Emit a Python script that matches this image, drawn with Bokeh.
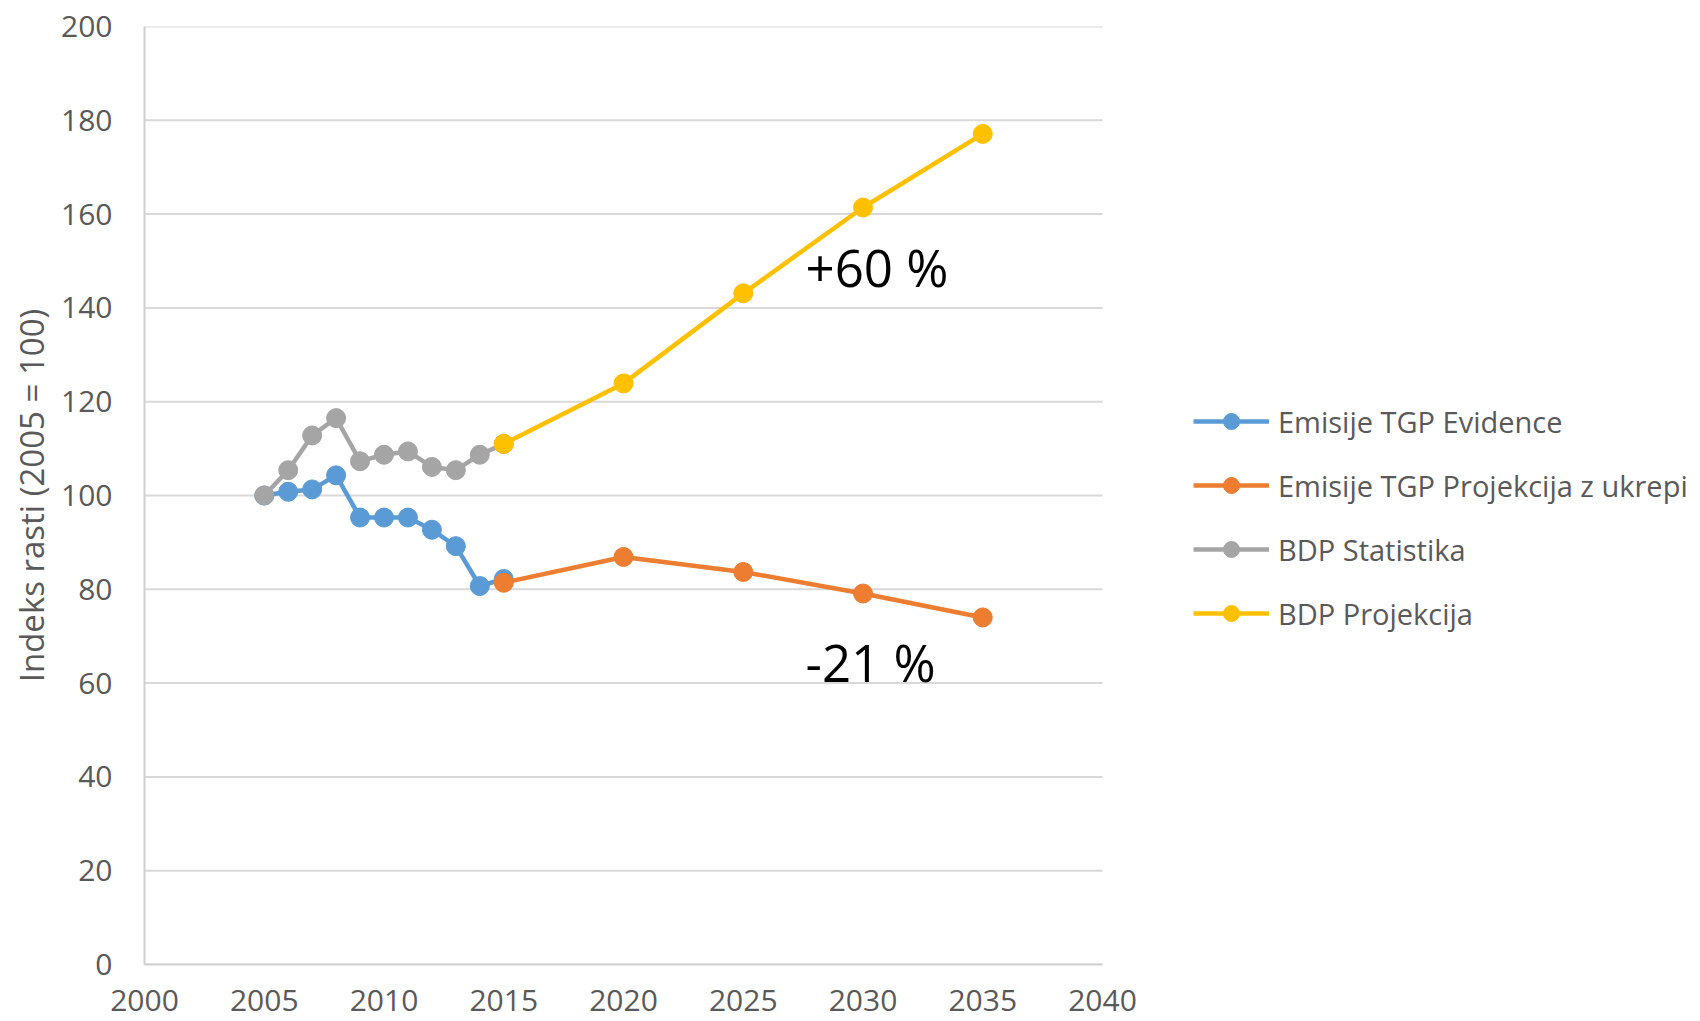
from bokeh.plotting import figure
from bokeh.models import Range1d, FixedTicker, Legend, LegendItem, Label
from bokeh.embed import file_html
from bokeh.resources import INLINE

# ---- data ----
years_evid = [2005, 2006, 2007, 2008, 2009, 2010, 2011, 2012, 2013, 2014, 2015]
emis_evid = [100.0, 100.8, 101.3, 104.3, 95.3, 95.3, 95.3, 92.7, 89.2, 80.7, 82.2]

years_proj = [2015, 2020, 2025, 2030, 2035]
emis_proj = [81.4, 86.9, 83.7, 79.1, 74.0]

years_stat = [2005, 2006, 2007, 2008, 2009, 2010, 2011, 2012, 2013, 2014, 2015]
bdp_stat = [100.0, 105.4, 112.8, 116.5, 107.3, 108.7, 109.4, 106.1, 105.4, 108.7, 111.0]

bdp_proj = [111.0, 123.9, 143.1, 161.4, 177.1]

series_names = ["Emisije TGP Evidence", "Emisije TGP Projekcija z ukrepi",
                "BDP Statistika", "BDP Projekcija"]
series_colors = ["#5B9BD5", "#ED7D31", "#A5A5A5", "#FFC000"]

x_ticks = [2000, 2005, 2010, 2015, 2020, 2025, 2030, 2035, 2040]
y_ticks = [0, 20, 40, 60, 80, 100, 120, 140, 160, 180, 200]

annot_texts = ["+60 %", "-21 %"]

FONT = "Open Sans"
GREY_TXT = "#595959"

# plot frame: 958 px for 40 years; frame extends to the right edge so the
# legend (drawn inside the frame) is not clipped
FRAME_W = 1556
x_end = x_ticks[0] + (x_ticks[-1] - x_ticks[0]) * FRAME_W / 958.0

p = figure(width=1700, height=1021, output_backend="svg", toolbar_location=None,
           x_range=Range1d(x_ticks[0], x_end), y_range=Range1d(0, 200),
           min_border_left=144, min_border_right=0, min_border_top=26,
           min_border_bottom=57)
p.outline_line_color = None
p.background_fill_color = "white"
p.border_fill_color = "white"

p.xgrid.grid_line_color = None
p.ygrid.grid_line_color = None

# horizontal gridlines limited to the 2000-2040 span
n = len(y_ticks)
p.segment(x0=[x_ticks[0]] * n, x1=[x_ticks[-1]] * n, y0=y_ticks, y1=y_ticks,
          line_color="#D9D9D9", line_width=2, level="underlay")

p.xaxis.ticker = FixedTicker(ticks=x_ticks)
p.yaxis.ticker = FixedTicker(ticks=y_ticks)
p.xaxis.bounds = (x_ticks[0], x_ticks[-1])
for ax in (p.xaxis, p.yaxis):
    ax.axis_line_color = "#D0D0D0"
    ax.axis_line_width = 2
    ax.major_tick_line_color = None
    ax.minor_tick_line_color = None
    ax.major_tick_out = 0
    ax.major_tick_in = 0
    ax.major_label_text_font = FONT
    ax.major_label_text_font_size = "30px"
    ax.major_label_text_color = GREY_TXT
p.yaxis.major_label_standoff = 32
p.xaxis.major_label_standoff = 25

p.yaxis.axis_label = "Indeks rasti (2005 = 100)"
p.yaxis.axis_label_text_font = FONT
p.yaxis.axis_label_text_font_size = "33px"
p.yaxis.axis_label_text_font_style = "normal"
p.yaxis.axis_label_text_color = GREY_TXT
p.yaxis.axis_label_standoff = 4

xs_list = [years_evid, years_proj, years_stat, years_proj]
ys_list = [emis_evid, emis_proj, bdp_stat, bdp_proj]

items = []
for name, col, xs, ys in zip(series_names, series_colors, xs_list, ys_list):
    r_line = p.line(xs, ys, line_color=col, line_width=4.5)
    r_pts = p.scatter(xs, ys, marker="circle", size=19, fill_color=col,
                      line_color=col, line_width=1)
    items.append(LegendItem(label=name, renderers=[r_line, r_pts]))

legend = Legend(items=items, location=(1049, 331), orientation="vertical",
                glyph_width=76, glyph_height=40, label_height=40, spacing=24,
                padding=0, margin=0, label_standoff=9,
                label_text_font=FONT, label_text_font_size="29px",
                label_text_color=GREY_TXT, border_line_color=None,
                background_fill_alpha=0)
p.add_layout(legend, "center")

p.add_layout(Label(x=2027.6, y=148.8, text=annot_texts[0], text_font=FONT,
                   text_font_size="51px", text_color="black",
                   text_baseline="alphabetic", text_align="left"))
p.add_layout(Label(x=2027.6, y=64.4, text=annot_texts[1], text_font=FONT,
                   text_font_size="51px", text_color="black",
                   text_baseline="alphabetic", text_align="left"))

open("out.html", "w").write(file_html(p, INLINE))
